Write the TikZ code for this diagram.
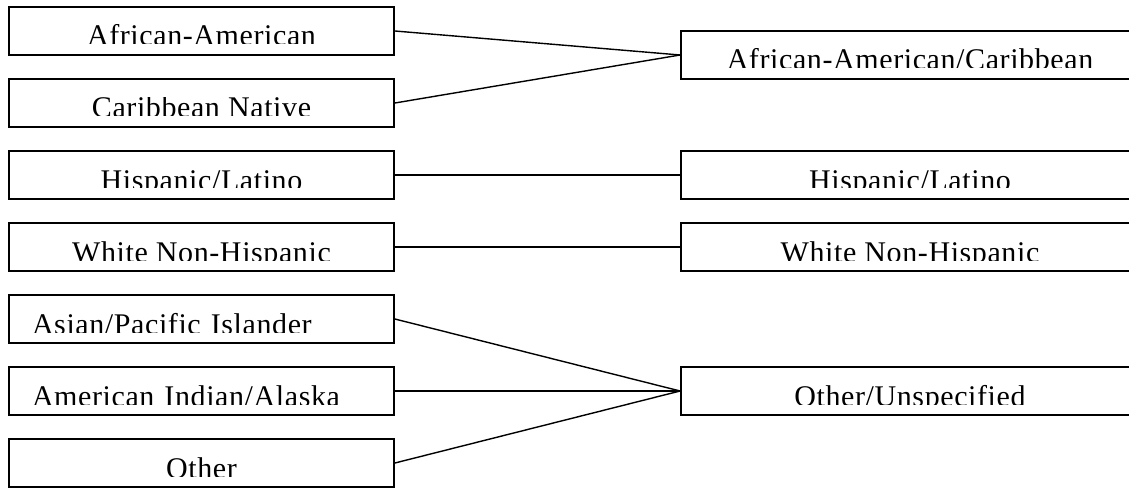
\documentclass[tikz,border=0pt]{standalone}
\usepackage{fontspec}
\usepackage{trimclip}
\setmainfont{Liberation Serif}[LetterSpace=2.0]
\newcommand{\cliptext}[1]{\raisebox{2pt}{\clipbox{0pt {\depth+2pt} 0pt 0pt}{#1}}}
\begin{document}
\begin{tikzpicture}[x=1pt,y=-1pt,
  box/.style={draw, line width=1.8pt, inner sep=0pt, minimum height=48pt,
    text height=30pt, text depth=0pt, font=\fontsize{30}{36}\selectfont},
  lbox/.style={box, minimum width=385pt},
  llbox/.style={lbox, inner xsep=23pt, text width=339pt, align=left},
  rbox/.style={box, minimum width=458pt},
  link/.style={line width=1.4pt}]
\useasboundingbox (0,0) rectangle (1129,489);
\clip (0,0) rectangle (1129,489);
\node[lbox] (aa) at (201.5,31) {\cliptext{African-American}};
\node[lbox] (cn) at (201.5,103) {\cliptext{Caribbean Native}};
\node[lbox] (hl) at (201.5,175) {\cliptext{Hispanic/Latino}};
\node[lbox] (wn) at (201.5,247) {\cliptext{White Non-Hispanic}};
\node[llbox] (ap) at (201.5,319) {\cliptext{Asian/Pacific Islander}};
\node[llbox] (ai) at (201.5,391) {\cliptext{American Indian/Alaska}};
\node[lbox] (ot) at (201.5,463) {\cliptext{Other}};
\node[rbox] (rac) at (910,55) {\cliptext{African-American/Caribbean}};
\node[rbox] (rhl) at (910,175) {\cliptext{Hispanic/Latino}};
\node[rbox] (rwn) at (910,247) {\cliptext{White Non-Hispanic}};
\node[rbox] (rou) at (910,391) {\cliptext{Other/Unspecified}};
\draw[link] (aa.east) -- (rac.west);
\draw[link] (cn.east) -- (rac.west);
\draw[link] (hl.east) -- (rhl.west);
\draw[link] (wn.east) -- (rwn.west);
\draw[link] (ap.east) -- (rou.west);
\draw[link] (ai.east) -- (rou.west);
\draw[link] (ot.east) -- (rou.west);
\end{tikzpicture}
\end{document}
